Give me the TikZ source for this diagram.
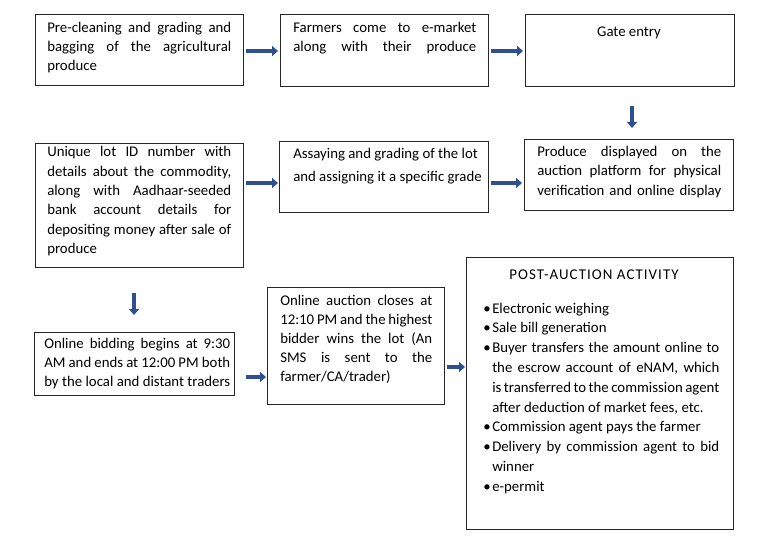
\documentclass[tikz,border=0pt]{standalone}
\usepackage{fontspec}
\setmainfont{Carlito}
\usetikzlibrary{arrows.meta}
\newlength\px
\setlength\px{0.75pt}
\definecolor{arrcol}{HTML}{2F5090}
\newcommand\tbox[2]{\vtop{\hsize=#1\px \linewidth=\hsize #2}}
\newcommand\jline[1]{\hbox to\linewidth{#1}}
\newcommand\nline[1]{\hbox{#1}}
\newcommand\bulN[1]{\hbox to\linewidth{\hbox to 9\px{\textbullet\hss}#1\hfil}}
\newcommand\bulJ[1]{\hbox to\linewidth{\hbox to 9\px{\textbullet\hss}#1}}
\newcommand\conJ[1]{\hbox to\linewidth{\hskip 9\px #1}}
\newcommand\conN[1]{\hbox to\linewidth{\hskip 9\px #1\hfil}}
\begin{document}
\begin{tikzpicture}[x=0.75pt,y=-0.75pt,
  box/.style={draw=black!85, line width=0.75pt, inner sep=0pt, anchor=north west},
  txt/.style={anchor=base west, inner sep=0pt, font=\fontsize{11.1}{14.25}\selectfont},
  ctxt/.style={anchor=base, inner sep=0pt, font=\fontsize{11.1}{14.25}\selectfont},
  flow/.style={draw=arrcol, line width=2.6pt, -{Triangle[length=4.5pt,width=7.5pt]}}
]
\fill[white] (0,0) rectangle (766,545);
\useasboundingbox (0,0) rectangle (766,545);

% boxes
\node[box, minimum width=208\px, minimum height=71\px]  (b1) at (35,14)  {};
\node[box, minimum width=208\px, minimum height=72\px]  (b2) at (280,14) {};
\node[box, minimum width=209\px, minimum height=72\px]  (b3) at (525,14) {};
\node[box, minimum width=208\px, minimum height=124\px] (b4) at (35,143) {};
\node[box, minimum width=209\px, minimum height=71\px]  (b5) at (279,141) {};
\node[box, minimum width=209\px, minimum height=71\px]  (b6) at (524,139) {};
\node[box, minimum width=200\px, minimum height=63\px]  (b7) at (34,332) {};
\node[box, minimum width=177\px, minimum height=117\px] (b8) at (267,287) {};
\node[box, minimum width=267\px, minimum height=272\px] (b9) at (466,257) {};

% texts
\node[txt] (t1) at (47,33) {\tbox{184}{%
  \jline{Pre-cleaning and grading and}%
  \jline{bagging of the agricultural}%
  \nline{produce}}};
\node[txt] (t2) at (293,33) {\tbox{183}{%
  \jline{Farmers come to e-market}%
  \jline{along with their produce}}};
\node[ctxt] (t3) at (629,37) {Gate entry};
\node[txt, font=\fontsize{11.1}{14.5}\selectfont] (t4) at (47,157) {\tbox{184}{%
  \jline{Unique lot ID number with}%
  \jline{details about the commodity,}%
  \jline{along with Aadhaar-seeded}%
  \jline{bank account details for}%
  \jline{depositing money after sale of}%
  \nline{produce}}};
\node[txt, font=\fontsize{11.1}{17}\selectfont] (t5) at (293,159) {\tbox{190}{%
  \nline{Assaying and grading of the lot}%
  \nline{and assigning it a specific grade}}};
\node[txt] (t6) at (537,157) {\tbox{184}{%
  \jline{Produce displayed on the}%
  \jline{auction platform for physical}%
  \jline{verification and online display}}};
\node[txt, font=\fontsize{11.1}{14.6}\selectfont] (t7) at (44,348) {\tbox{186}{%
  \jline{Online bidding begins at 9:30}%
  \jline{AM and ends at 12:00 PM both}%
  \jline{by the local and distant traders}}};
\node[txt] (t8) at (280,305) {\tbox{152}{%
  \jline{Online auction closes at}%
  \jline{12:10 PM and the highest}%
  \jline{bidder wins the lot (An}%
  \jline{SMS is sent to the}%
  \nline{farmer/CA/trader)}}};
\node[ctxt, font=\fontsize{11.2}{14.25}\selectfont\addfontfeatures{LetterSpace=7}] (t9) at (594,279) {POST-AUCTION ACTIVITY};
\node[txt, font=\fontsize{11.1}{14.85}\selectfont] (t10) at (483,313) {\tbox{236}{%
  \bulN{Electronic weighing}%
  \bulN{Sale bill generation}%
  \bulJ{Buyer transfers the amount online to}%
  \conJ{the escrow account of eNAM, which}%
  \conJ{is transferred to the commission agent}%
  \conN{after deduction of market fees, etc.}%
  \bulN{Commission agent pays the farmer}%
  \bulJ{Delivery by commission agent to bid}%
  \conN{winner}%
  \bulN{e-permit}}};

% helper coordinates
\coordinate (r2) at (0,183);
\coordinate (r3a) at (0,377);
\coordinate (r3b) at (0,367);
\coordinate (r1) at (0,51);
\coordinate (d1) at (632,0);
\coordinate (d2) at (134,0);

% connectors
\draw[flow, shorten <=1.5pt, shorten >=1.5pt] (b1.east |- r1) -- (b2.west |- r1);
\draw[flow, shorten <=1.5pt, shorten >=1.5pt] (b2.east |- r1) -- (b3.west |- r1);
\draw[flow, shorten <=14.25pt, shorten >=8.25pt] (b3.south -| d1) -- (b6.north -| d1);
\draw[flow, shorten <=1.5pt, shorten >=0.75pt] (b4.east |- r2) -- (b5.west |- r2);
\draw[flow, shorten <=1.5pt, shorten >=1.5pt] (b5.east |- r2) -- (b6.west |- r2);
\draw[flow, shorten <=18.75pt, shorten >=12.75pt] (b4.south -| d2) -- (b7.north -| d2);
\draw[flow, shorten <=8.25pt, shorten >=0.75pt] (b7.east |- r3a) -- (b8.west |- r3a);
\draw[flow, shorten <=1.5pt, shorten >=0.75pt] (b8.east |- r3b) -- (b9.west |- r3b);
\end{tikzpicture}
\end{document}
